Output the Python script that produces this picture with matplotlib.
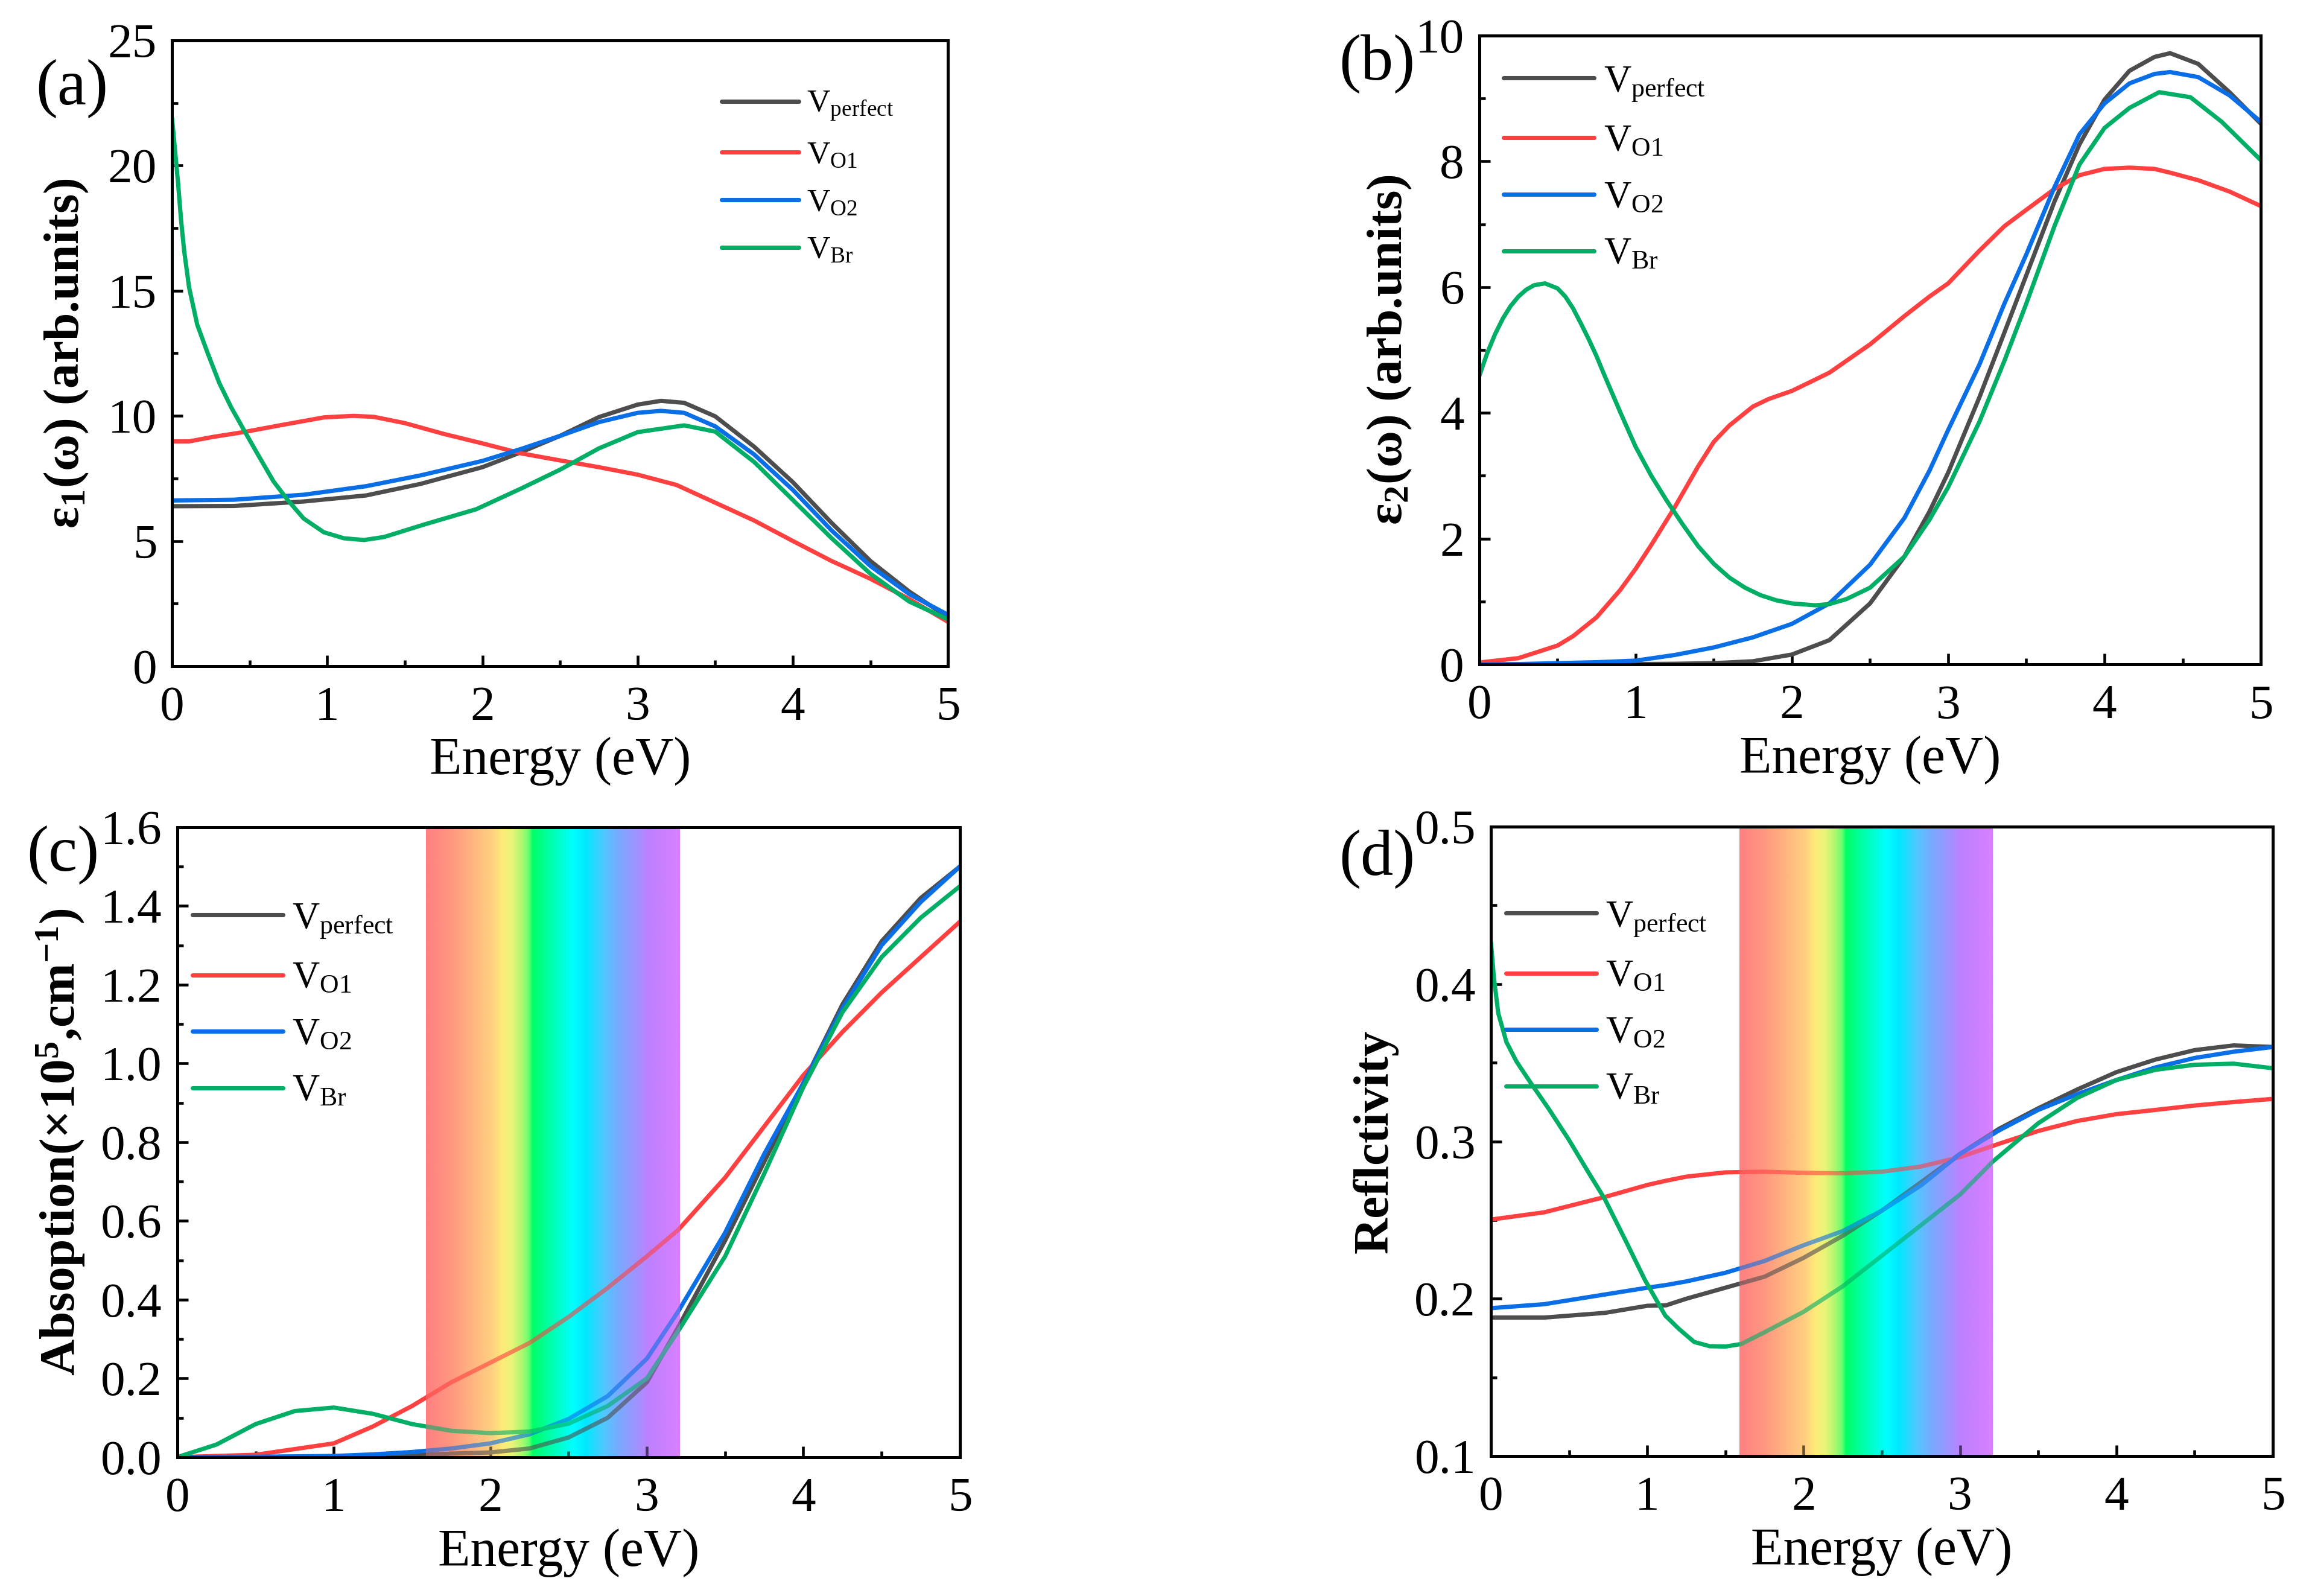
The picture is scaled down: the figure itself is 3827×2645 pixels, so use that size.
import numpy as np
import matplotlib
matplotlib.use("Agg")
import matplotlib.pyplot as plt
from matplotlib.colors import LinearSegmentedColormap
from matplotlib.ticker import MultipleLocator

plt.rcParams["font.family"] = ["Liberation Serif", "DejaVu Serif"]
plt.rcParams["mathtext.fontset"] = "custom"
plt.rcParams["mathtext.rm"] = "Liberation Serif"
plt.rcParams["mathtext.it"] = "Liberation Serif:italic"
plt.rcParams["mathtext.bf"] = "Liberation Serif:bold"

# ---- (a) real part eps1 ----
a_E = [0, 0.4, 0.85, 1.25, 1.6, 2.0, 2.25, 2.5, 2.75, 3.0, 3.15, 3.3, 3.5, 3.75, 4.0, 4.25, 4.5, 4.75, 5.0]
a_perfect = [6.39, 6.40, 6.58, 6.82, 7.28, 7.95, 8.55, 9.2, 9.95, 10.45, 10.6, 10.52, 9.98, 8.77, 7.35, 5.72, 4.2, 2.98, 1.95]
a_O2 = [6.62, 6.65, 6.85, 7.19, 7.62, 8.2, 8.68, 9.2, 9.75, 10.12, 10.2, 10.12, 9.58, 8.46, 7.04, 5.42, 4.0, 2.88, 2.05]
a_E_O1 = [0, 0.11, 0.265, 0.46, 0.72, 0.98, 1.17, 1.3, 1.5, 1.75, 2.0, 2.25, 2.5, 2.75, 3.0, 3.25, 3.5, 3.75, 4.0, 4.25, 4.5, 4.75, 5.0]
a_O1 = [8.98, 8.98, 9.16, 9.35, 9.65, 9.94, 10.0, 9.96, 9.71, 9.28, 8.9, 8.5, 8.22, 7.95, 7.65, 7.24, 6.53, 5.82, 5.0, 4.2, 3.49, 2.68, 1.77]
a_E_Br = [0, 0.039, 0.058, 0.078, 0.11, 0.162, 0.227, 0.304, 0.382, 0.46, 0.55, 0.654, 0.745, 0.848, 0.978, 1.107,
          1.237, 1.366, 1.625, 1.96, 2.25, 2.5, 2.75, 3.0, 3.3, 3.5, 3.75, 4.0, 4.25, 4.5, 4.75, 5.0]
a_Br = [21.9, 19.3, 17.84, 16.6, 15.13, 13.65, 12.55, 11.32, 10.33, 9.47, 8.49, 7.38, 6.64, 5.9, 5.35, 5.11,
        5.04, 5.16, 5.66, 6.27, 7.1, 7.85, 8.7, 9.35, 9.62, 9.37, 8.16, 6.64, 5.11, 3.69, 2.58, 1.87]

# ---- (b) imaginary part eps2 ----
b_E = [0, 0.25, 0.5, 0.75, 1.0, 1.25, 1.5, 1.75, 2.0, 2.24, 2.5, 2.72, 2.88, 3.0, 3.2, 3.36, 3.5, 3.68, 3.84,
       4.0, 4.16, 4.32, 4.42, 4.6, 4.8, 5.0]
b_perfect = [0, 0, 0, 0, 0.005, 0.01, 0.02, 0.05, 0.157, 0.386, 0.97, 1.716, 2.43, 3.05, 4.25, 5.28, 6.19, 7.36, 8.27,
             8.98, 9.44, 9.66, 9.72, 9.55, 9.1, 8.6]
b_O2 = [0, 0.005, 0.02, 0.035, 0.06, 0.15, 0.27, 0.43, 0.645, 0.97, 1.586, 2.33, 3.08, 3.73, 4.77, 5.74, 6.52, 7.59, 8.43,
        8.92, 9.24, 9.39, 9.42, 9.34, 9.05, 8.63]
b_E_O1 = [0, 0.25, 0.5, 0.6, 0.75, 0.9, 1.0, 1.1, 1.25, 1.4, 1.5, 1.6, 1.75, 1.85, 2.0, 2.1, 2.24, 2.5, 2.72, 2.88, 3.0,
          3.2, 3.36, 3.5, 3.68, 3.84, 4.0, 4.16, 4.32, 4.42, 4.6, 4.8, 5.0]
b_O1 = [0.03, 0.1, 0.3, 0.45, 0.75, 1.18, 1.52, 1.9, 2.5, 3.15, 3.54, 3.8, 4.1, 4.22, 4.35, 4.47, 4.64, 5.09, 5.54, 5.85,
        6.06, 6.58, 6.97, 7.23, 7.56, 7.78, 7.88, 7.9, 7.88, 7.82, 7.7, 7.52, 7.29]
b_E_Br = [0, 0.05, 0.1, 0.15, 0.2, 0.25, 0.3, 0.35, 0.42, 0.5, 0.55, 0.6, 0.65, 0.7, 0.75, 0.8, 0.9, 1.0, 1.1, 1.2, 1.3,
          1.4, 1.5, 1.6, 1.7, 1.8, 1.9, 2.0, 2.15, 2.24, 2.35, 2.5, 2.72, 2.88, 3.0, 3.2, 3.36, 3.5, 3.68, 3.84, 4.0,
          4.16, 4.35, 4.55, 4.75, 5.0]
b_Br = [4.59, 4.95, 5.25, 5.5, 5.7, 5.85, 5.96, 6.03, 6.06, 5.98, 5.85, 5.66, 5.42, 5.17, 4.9, 4.6, 4.02, 3.46, 3.0,
        2.6, 2.23, 1.88, 1.6, 1.38, 1.22, 1.1, 1.02, 0.97, 0.94, 0.96, 1.04, 1.22, 1.716, 2.3, 2.82, 3.86, 4.83, 5.74,
        6.97, 7.95, 8.53, 8.85, 9.1, 9.02, 8.63, 8.02]

# ---- (c) absorption ----
c_E = [0, 0.5, 1.0, 1.25, 1.5, 1.75, 2.0, 2.25, 2.5, 2.75, 3.0, 3.2, 3.5, 3.75, 4.0, 4.25, 4.5, 4.75, 5.0]
c_perfect = [0, 0, 0.001, 0.003, 0.005, 0.009, 0.012, 0.022, 0.05, 0.1, 0.19, 0.33, 0.55, 0.75, 0.95, 1.15, 1.31, 1.42, 1.5]
c_O1 = [0, 0.006, 0.035, 0.078, 0.13, 0.19, 0.24, 0.29, 0.356, 0.43, 0.51, 0.577, 0.71, 0.84, 0.97, 1.08, 1.18, 1.27, 1.36]
c_O2 = [0, 0.001, 0.003, 0.007, 0.013, 0.022, 0.035, 0.058, 0.097, 0.155, 0.25, 0.37, 0.57, 0.77, 0.95, 1.14, 1.3, 1.41, 1.5]
c_E_Br = [0, 0.25, 0.5, 0.75, 1.0, 1.25, 1.5, 1.75, 2.0, 2.25, 2.5, 2.75, 3.0, 3.2, 3.5, 3.75, 4.0, 4.25, 4.5, 4.75, 5.0]
c_Br = [0, 0.032, 0.084, 0.117, 0.126, 0.11, 0.084, 0.067, 0.061, 0.065, 0.085, 0.13, 0.2, 0.32, 0.51, 0.72, 0.94, 1.13,
        1.27, 1.37, 1.45]

# ---- (d) reflectivity ----
d_E = [0, 0.34, 0.73, 1.0, 1.12, 1.25, 1.5, 1.75, 2.0, 2.25, 2.5, 2.75, 3.0, 3.25, 3.5, 3.75, 4.0, 4.25, 4.5, 4.75, 5.0]
d_perfect = [0.188, 0.188, 0.191, 0.1955, 0.1958, 0.2, 0.207, 0.214, 0.226, 0.24, 0.256, 0.274, 0.292, 0.308, 0.321,
             0.333, 0.344, 0.352, 0.358, 0.361, 0.36]
d_O1 = [0.2503, 0.2549, 0.2647, 0.2723, 0.275, 0.2776, 0.2803, 0.2807, 0.28, 0.2797, 0.2807, 0.284, 0.29, 0.2985,
        0.3066, 0.313, 0.3173, 0.32, 0.3228, 0.325, 0.327]
d_O2 = [0.194, 0.1965, 0.2027, 0.207, 0.2087, 0.211, 0.2165, 0.224, 0.234, 0.243, 0.256, 0.272, 0.292, 0.307, 0.32,
        0.33, 0.339, 0.347, 0.353, 0.357, 0.36]
d_E_Br = [0, 0.019, 0.047, 0.099, 0.162, 0.253, 0.369, 0.498, 0.626, 0.729, 0.858, 0.986, 1.115, 1.2, 1.3, 1.4, 1.5,
          1.6, 1.75, 2.0, 2.25, 2.5, 2.75, 3.0, 3.21, 3.5, 3.75, 4.0, 4.25, 4.5, 4.75, 5.0]
d_Br = [0.4265, 0.404, 0.3814, 0.3632, 0.351, 0.3374, 0.3208, 0.3011, 0.2799, 0.2632, 0.2376, 0.2117, 0.1893, 0.181,
        0.1725, 0.1698, 0.1696, 0.1712, 0.1787, 0.1917, 0.2079, 0.2273, 0.2467, 0.2662, 0.2872, 0.3115, 0.3277, 0.339,
        0.3455, 0.3487, 0.3494, 0.3465]

names = [r"$\mathregular{V_{perfect}}$", r"$\mathregular{V_{O1}}$", r"$\mathregular{V_{O2}}$", r"$\mathregular{V_{Br}}$"]
cols = ["#4d4d4d", "#ff4040", "#0a6ee6", "#00ae66"]

# visible light band (eV)
vis_lo, vis_hi = 1.59, 3.21
band_cmap = LinearSegmentedColormap.from_list("vis", [
    (0.0, "#ff8080"), (0.10, "#ff9880"), (0.18, "#ffb480"), (0.26, "#ffd080"), (0.30, "#ffeb78"),
    (0.34, "#e6f578"), (0.38, "#a8f870"), (0.405, "#66ff6e"), (0.42, "#00ff66"), (0.50, "#00ffb4"),
    (0.58, "#00ffff"), (0.63, "#00e8ff"), (0.70, "#50c8ff"), (0.76, "#78aaff"), (0.82, "#9b96ff"),
    (0.88, "#be80ff"), (1.0, "#d880ff")])

fig = plt.figure(figsize=(3827 / 300, 2645 / 300), dpi=300)
ax_a = fig.add_axes([0.0745, 0.5826, 0.3361, 0.3921])
ax_b = fig.add_axes([0.6407, 0.5837, 0.3384, 0.3940])
ax_c = fig.add_axes([0.0768, 0.0870, 0.3389, 0.3947])
ax_d = fig.add_axes([0.6457, 0.0877, 0.3386, 0.3943])


def draw(ax, series):
    for (x, y), c, n in zip(series, cols, names):
        ax.plot(x, y, color=c, lw=1.7, label=n, zorder=2,
                solid_capstyle="round", solid_joinstyle="round")


def band(ax, ylim):
    grad = np.linspace(0, 1, 256).reshape(1, -1)
    ext = [vis_lo, vis_hi, ylim[0], ylim[1]]
    ax.imshow(grad, cmap=band_cmap, extent=ext, aspect="auto", zorder=1, interpolation="bilinear")
    ax.imshow(grad, cmap=band_cmap, extent=ext, aspect="auto", zorder=2.2, alpha=0.4, interpolation="bilinear")


def style(ax, ylim, ymaj, ymin):
    ax.set_xlim(0, 5)
    ax.set_ylim(*ylim)
    ax.xaxis.set_major_locator(MultipleLocator(1))
    ax.xaxis.set_minor_locator(MultipleLocator(0.5))
    ax.yaxis.set_major_locator(MultipleLocator(ymaj))
    ax.yaxis.set_minor_locator(MultipleLocator(ymin))
    ax.tick_params(which="both", direction="in", top=False, right=False, width=1.1)
    ax.tick_params(which="major", length=4.3, labelsize=19.5)
    ax.tick_params(which="minor", length=2.4)
    ax.tick_params(axis="x", pad=8)
    ax.tick_params(axis="y", pad=6)
    for s in ax.spines.values():
        s.set_linewidth(1.2)
    ax.set_xlabel("Energy (eV)", fontsize=21)
    ax.xaxis.set_label_coords(0.5, -0.113)


def legend(ax, x, y, size):
    ax.legend(loc="upper left", bbox_to_anchor=(x, y), frameon=False, fontsize=size,
              handlelength=2.4, handletextpad=0.25, labelspacing=0.57, borderpad=0, borderaxespad=0)


draw(ax_a, [(a_E, a_perfect), (a_E_O1, a_O1), (a_E, a_O2), (a_E_Br, a_Br)])
style(ax_a, (0, 25), 5, 2.5)
ax_a.set_ylabel(r"$\mathregular{ε_1}$(ω) (arb.units)", fontsize=20, fontweight="bold", va="center")
ax_a.yaxis.set_label_coords(-0.136, 0.5)
legend(ax_a, 0.708, 0.921, 12.8)

draw(ax_b, [(b_E, b_perfect), (b_E_O1, b_O1), (b_E, b_O2), (b_E_Br, b_Br)])
style(ax_b, (0, 10), 2, 1)
ax_b.set_ylabel(r"$\mathregular{ε_2}$(ω) (arb.units)", fontsize=20, fontweight="bold", va="center")
ax_b.yaxis.set_label_coords(-0.115, 0.5)
legend(ax_b, 0.031, 0.954, 15)

band(ax_c, (0, 1.6))
draw(ax_c, [(c_E, c_perfect), (c_E, c_O1), (c_E, c_O2), (c_E_Br, c_Br)])
style(ax_c, (0, 1.6), 0.2, 0.1)
ax_c.set_ylabel(r"Absoption(×10$\mathregular{^5}$,cm$\mathregular{^{-1}}$)", fontsize=20, fontweight="bold", va="center")
ax_c.yaxis.set_label_coords(-0.149, 0.5)
legend(ax_c, 0.019, 0.882, 15)

band(ax_d, (0.1, 0.5))
draw(ax_d, [(d_E, d_perfect), (d_E, d_O1), (d_E, d_O2), (d_E_Br, d_Br)])
style(ax_d, (0.1, 0.5), 0.1, 0.05)
ax_d.set_ylabel("Reflctivity", fontsize=20, fontweight="bold", va="center")
ax_d.yaxis.set_label_coords(-0.148, 0.5)
legend(ax_d, 0.019, 0.884, 15)

for lab, x, y in [("(a)", 0.0311, 0.9444), ("(b)", 0.5965, 0.9600), ("(c)", 0.0272, 0.4643), ("(d)", 0.5965, 0.4616)]:
    fig.text(x, y, lab, fontsize=26, ha="center", va="center")

fig.savefig("out.png", dpi=300)
